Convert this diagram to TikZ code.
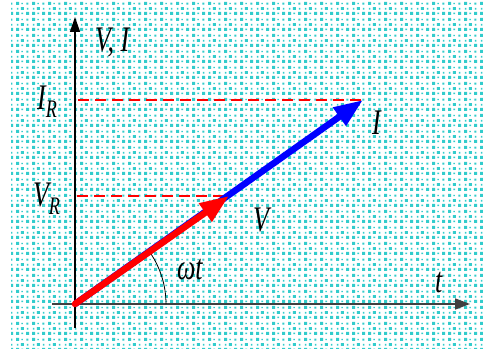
\documentclass[tikz,border=0pt]{standalone}
\usepackage{fontspec}
\setmainfont{Liberation Serif}
\usetikzlibrary{arrows.meta,patterns}
\definecolor{dotcyan}{RGB}{51,204,204}
\definecolor{axisgray}{RGB}{64,64,64}
\definecolor{dashred}{RGB}{255,0,0}
\pgfdeclarepatternformonly{cyandots}{\pgfqpoint{0pt}{0pt}}{\pgfqpoint{16pt}{16pt}}{\pgfqpoint{16pt}{16pt}}{%
  \pgfpathrectangle{\pgfqpoint{0.2pt}{0.2pt}}{\pgfqpoint{3pt}{3pt}}%
  \pgfpathrectangle{\pgfqpoint{5.8pt}{0.8pt}}{\pgfqpoint{1.7pt}{1.7pt}}%
  \pgfpathrectangle{\pgfqpoint{10.8pt}{0.2pt}}{\pgfqpoint{3pt}{3pt}}%
  \pgfpathrectangle{\pgfqpoint{0.8pt}{5.8pt}}{\pgfqpoint{1.7pt}{1.7pt}}%
  \pgfpathrectangle{\pgfqpoint{5.3pt}{5.3pt}}{\pgfqpoint{3pt}{3pt}}%
  \pgfpathrectangle{\pgfqpoint{11.4pt}{5.8pt}}{\pgfqpoint{1.7pt}{1.7pt}}%
  \pgfpathrectangle{\pgfqpoint{0.2pt}{10.8pt}}{\pgfqpoint{3pt}{3pt}}%
  \pgfpathrectangle{\pgfqpoint{5.8pt}{11.4pt}}{\pgfqpoint{1.4pt}{1.4pt}}%
  \pgfpathrectangle{\pgfqpoint{11pt}{11pt}}{\pgfqpoint{2.2pt}{2.2pt}}%
  \pgfusepath{fill}}
\tikzset{
  lbl/.style={inner sep=0pt, anchor=base west, font=\fontsize{36}{36}\selectfont\itshape, xscale=0.72, transform shape},
  axisline/.style={line width=1.6pt},
  refdash/.style={draw=dashred, line width=1.4pt, dash pattern=on 11pt off 6pt},
  vec/.style={line width=6.5pt, -{Triangle[length=29pt,width=21pt]}},
}
\begin{document}
\begin{tikzpicture}[x=1pt,y=1pt]
  \useasboundingbox (0,0) rectangle (483,351);
  \fill[white] (0,0) rectangle (483,351);
  \begin{scope}
    \fill[pattern=cyandots, pattern color=dotcyan] (11,2) rectangle (483,351);
  \end{scope}
  % points
  \coordinate (O) at (75,47);
  \coordinate (ybot) at (75,23);
  \coordinate (ytop) at (75,334);
  \coordinate (xleft) at (52,47);
  \coordinate (xright) at (470,47);
  \coordinate (Vtip) at (229,155);
  \coordinate (Itip) at (363,251);
  \coordinate (IRleft) at (78,251);
  \coordinate (VRleft) at (77,155);
  % dashed reference lines
  \path[refdash] (IRleft) -- (Itip);
  \path[refdash] (VRleft) -- (Vtip);
  % axes
  \draw[axisline, black, -{Triangle[length=15pt,width=10pt]}] (ybot) -- (ytop);
  \draw[axisline, axisgray, -{Triangle[length=15pt,width=11pt]}] (xleft) -- (xright);
  % angle arc
  \draw[black, line width=0.8pt] ([shift={(0:91)}]O) arc[start angle=0, end angle=35, radius=91];
  % vectors
  \draw[vec, blue] (O) -- (Itip);
  \draw[vec, red, line cap=round] (O) -- (Vtip);
  % labels
  \node[lbl] (lVI) at (95,299) {V, I};
  \node[lbl] (lIR) at (37,241) {I\textsubscript{R}};
  \node[lbl] (lVR) at (33,144) {V\textsubscript{R}};
  \node[lbl] (lI) at (372,216) {I};
  \node[lbl] (lV) at (253,119) {V};
  \node[lbl] (lwt) at (177,71) {ωt};
  \node[lbl] (lt) at (435,58) {t};
\end{tikzpicture}
\end{document}
